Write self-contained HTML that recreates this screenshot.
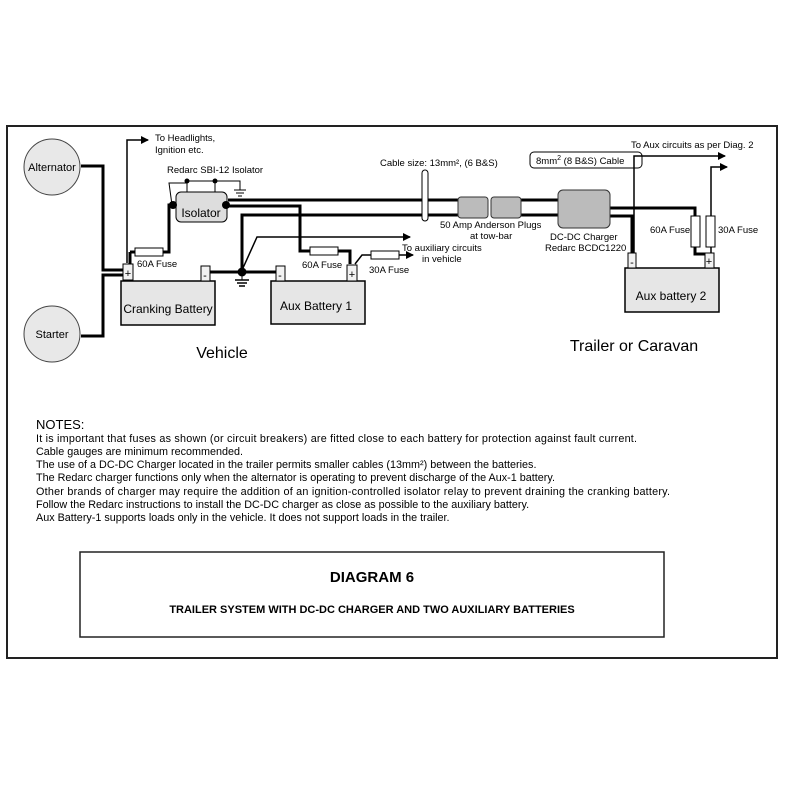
<!DOCTYPE html>
<html><head><meta charset="utf-8"><style>
html,body{margin:0;padding:0;background:#fff;}
svg{display:block;font-family:"Liberation Sans",Arial,sans-serif;}
</style></head><body>
<svg width="785" height="785" viewBox="0 0 785 785" xmlns="http://www.w3.org/2000/svg">
<defs><marker id="ar" markerWidth="8" markerHeight="8" refX="7" refY="4" orient="auto" markerUnits="userSpaceOnUse"><path d="M0,0 L8,4 L0,8 z" fill="#000"/></marker></defs>
<rect x="7" y="126" width="770" height="532" fill="#fff" stroke="#222" stroke-width="2"/>
<!-- alternator / starter -->
<circle cx="52" cy="167" r="28" fill="#e8e8e8" stroke="#444" stroke-width="1"/>
<text x="52" y="171" font-size="11" text-anchor="middle">Alternator</text>
<circle cx="52" cy="334" r="28" fill="#e8e8e8" stroke="#444" stroke-width="1"/>
<text x="52" y="338" font-size="11" text-anchor="middle">Starter</text>
<g fill="none" stroke="#000" stroke-width="3">
<polyline points="81,166 103,166 103,270 126,270"/>
<polyline points="81,336 103,336 103,275 126,275"/>
<!-- neg bus -->
<line x1="210" y1="272" x2="278" y2="272"/>
<!-- isolator to crank + -->
<polyline points="172,205 169,205 169,252 163,252"/>
<line x1="135" y1="252" x2="130" y2="252" />
<polyline points="130,252 130,264"/>
<!-- isolator outputs -->
<line x1="228" y1="200" x2="458" y2="200"/>
<polyline points="228,206 300,206 300,251 310,251"/>
<polyline points="338,251 350,251 350,264"/>
<polyline points="242,272 242,215 458,215"/>
<line x1="520" y1="200" x2="558" y2="200"/>
<line x1="520" y1="215" x2="558" y2="215"/>
<!-- charger outputs -->
<polyline points="610,208 695,208 695,216"/>
<polyline points="610,216 632,216 632,253"/>
<polyline points="695,247 695,254 708,254"/>
</g>
<g fill="none" stroke="#000" stroke-width="1.5">
<polyline points="127,263 127,140 148,140" marker-end="url(#ar)"/>
<polyline points="243,268 257,237 410,237" marker-end="url(#ar)"/>
<polyline points="355,264 362,255 371,255"/>
<line x1="399" y1="255" x2="413" y2="255" marker-end="url(#ar)"/>
<polyline points="634,253 634,156 725,156" marker-end="url(#ar)"/>
<polyline points="711,216 711,167 727,167" marker-end="url(#ar)"/>
<line x1="711" y1="247" x2="711" y2="254"/>
</g>
<!-- fuses -->
<g fill="#fff" stroke="#000" stroke-width="1">
<rect x="135" y="248" width="28" height="8"/>
<rect x="310" y="247" width="28" height="8"/>
<rect x="371" y="251" width="28" height="8"/>
<rect x="691" y="216" width="9" height="31"/>
<rect x="706" y="216" width="9" height="31"/>
</g>
<g font-size="9.5">
<text x="137" y="267">60A Fuse</text>
<text x="302" y="268">60A Fuse</text>
<text x="369" y="273">30A Fuse</text>
<text x="650" y="233">60A Fuse</text>
<text x="718" y="233">30A Fuse</text>
<text x="155" y="141">To Headlights,</text>
<text x="155" y="153">Ignition etc.</text>
<text x="167" y="173">Redarc SBI-12 Isolator</text>
<text x="380" y="166">Cable size: 13mm², (6 B&amp;S)</text>
<text x="631" y="148">To Aux circuits as per Diag. 2</text>
<text x="402" y="251">To auxiliary circuits</text>
<text x="422" y="262">in vehicle</text>
<text x="440" y="228">50 Amp Anderson Plugs</text>
<text x="470" y="239">at tow-bar</text>
<text x="550" y="240">DC-DC Charger</text>
<text x="545" y="251">Redarc BCDC1220</text>
</g>
<!-- isolator -->
<polyline points="187,192 187,181 215,181 215,192" fill="none" stroke="#000" stroke-width="1"/>
<polyline points="215,181 240,181 240,190" fill="none" stroke="#000" stroke-width="1"/>
<line x1="234" y1="190" x2="246" y2="190" stroke="#000"/><line x1="236" y1="193" x2="244" y2="193" stroke="#000"/><line x1="238" y1="196" x2="242" y2="196" stroke="#000"/>
<polyline points="172,205 169,183 187,183" fill="none" stroke="#000" stroke-width="1"/>
<rect x="176" y="192" width="51" height="30" rx="5" fill="#ddd" stroke="#000"/>
<text x="201" y="217" font-size="12" text-anchor="middle">Isolator</text>
<circle cx="187" cy="181" r="2.5"/><circle cx="215" cy="181" r="2.5"/>
<circle cx="173" cy="205" r="4"/><circle cx="226" cy="205" r="4"/>
<circle cx="242" cy="272" r="4.5"/>
<line x1="242" y1="272" x2="242" y2="280" stroke="#000"/>
<line x1="235" y1="280" x2="249" y2="280" stroke="#000" stroke-width="1.5"/><line x1="237" y1="283" x2="247" y2="283" stroke="#000" stroke-width="1.5"/><line x1="239" y1="286" x2="245" y2="286" stroke="#000" stroke-width="1.5"/>
<!-- cable size marker -->
<rect x="422" y="170" width="6" height="51" rx="3" fill="#fff" stroke="#000"/>
<!-- Anderson -->
<rect x="458" y="197" width="30" height="21" rx="3" fill="#bbb" stroke="#333"/>
<rect x="491" y="197" width="30" height="21" rx="3" fill="#bbb" stroke="#333"/>
<!-- charger -->
<rect x="558" y="190" width="52" height="38" rx="5" fill="#bbb" stroke="#333"/>
<!-- 8mm box -->
<rect x="530" y="152" width="112" height="16" rx="4" fill="none" stroke="#000"/>
<text x="536" y="164" font-size="9.5">8mm<tspan font-size="7" dy="-4">2</tspan><tspan dy="4"> (8 B&amp;S) Cable</tspan></text>
<!-- batteries -->
<g fill="#e6e6e6" stroke="#000" stroke-width="1.5">
<rect x="121" y="281" width="94" height="44"/>
<rect x="271" y="281" width="94" height="43"/>
<rect x="625" y="268" width="94" height="44"/>
</g>
<g fill="#f2f2f2" stroke="#000" stroke-width="1">
<rect x="123" y="264" width="10" height="16"/><rect x="201" y="266" width="9" height="15"/>
<rect x="276" y="266" width="9" height="15"/><rect x="347" y="265" width="10" height="16"/>
<rect x="628" y="253" width="8" height="15"/><rect x="705" y="253" width="9" height="15"/>
</g>
<g font-size="11" text-anchor="middle">
<text x="128" y="277">+</text><text x="205" y="279">-</text>
<text x="280" y="279">-</text><text x="352" y="278">+</text>
<text x="632" y="266">-</text><text x="709" y="265">+</text>
</g>
<g font-size="12" text-anchor="middle">
<text x="168" y="313">Cranking Battery</text>
<text x="316" y="310">Aux Battery 1</text>
<text x="671" y="300">Aux battery 2</text>
</g>
<text x="222" y="358" font-size="16" text-anchor="middle">Vehicle</text>
<text x="634" y="351" font-size="16" text-anchor="middle">Trailer or Caravan</text>
<!-- notes -->
<text x="36" y="429" font-size="13">NOTES:</text>
<g font-size="10.8">
<text x="36" y="442" textLength="601">It is important that fuses as shown (or circuit breakers) are fitted close to each battery for protection against fault current.</text>
<text x="36" y="455">Cable gauges are minimum recommended.</text>
<text x="36" y="468">The use of a DC-DC Charger located in the trailer permits smaller cables (13mm²) between the batteries.</text>
<text x="36" y="481">The Redarc charger functions only when the alternator is operating to prevent discharge of the Aux-1 battery.</text>
<text x="36" y="495" textLength="634">Other brands of charger may require the addition of an ignition-controlled isolator relay to prevent draining the cranking battery.</text>
<text x="36" y="508">Follow the Redarc instructions to install the DC-DC charger as close as possible to the auxiliary battery.</text>
<text x="36" y="521">Aux Battery-1 supports loads only in the vehicle. It does not support loads in the trailer.</text>
</g>
<rect x="80" y="552" width="584" height="85" fill="#fff" stroke="#222" stroke-width="1.5"/>
<text x="372" y="582" font-size="15" font-weight="bold" text-anchor="middle">DIAGRAM 6</text>
<text x="372" y="613" font-size="11" font-weight="bold" text-anchor="middle">TRAILER SYSTEM WITH DC-DC CHARGER AND TWO AUXILIARY  BATTERIES</text>
</svg>
</body></html>
